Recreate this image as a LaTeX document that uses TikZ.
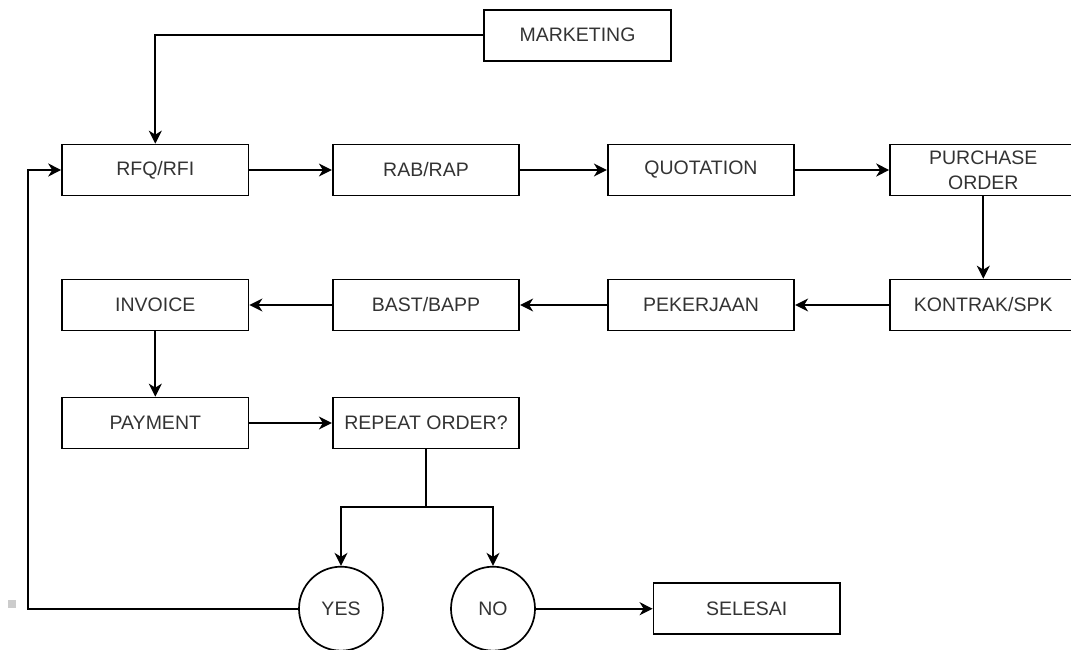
\documentclass[tikz,border=0pt]{standalone}
\usepackage{fontspec}
\setmainfont{Liberation Sans}
\usetikzlibrary{arrows.meta}
\definecolor{txt}{HTML}{333333}
\tikzset{
  box/.style={draw=black, line width=1.7pt, rectangle, minimum width=186.5pt, minimum height=51pt, inner sep=0pt, text=txt, font=\fontsize{19.5}{25}\selectfont, align=center},
  circ/.style={draw=black, line width=1.7pt, circle, minimum size=84pt, inner sep=0pt, text=txt, font=\fontsize{19.5}{25}\selectfont},
  conn/.style={line width=1.7pt, -{Stealth[length=13pt, width=13pt, inset=4pt]}},
  plain/.style={line width=1.7pt}
}
\begin{document}
\begin{tikzpicture}[x=1pt, y=-1pt]
\useasboundingbox (0,0) rectangle (1071,650);
\node[box] (mkt)  at (577.5,35.2) {MARKETING};
\node[box] (rfq)  at (155.3,170) {RFQ/RFI};
\node[box] (rab)  at (426,170) {RAB/RAP};
\node[box] (quo)  at (701,170) {QUOTATION};
\node[box] (po)   at (983.3,170) {PURCHASE\\ORDER};
\node[box] (kon)  at (983.3,305) {KONTRAK/SPK};
\node[box] (pek)  at (701,305) {PEKERJAAN};
\node[box] (bast) at (426,305) {BAST/BAPP};
\node[box] (inv)  at (155.3,305) {INVOICE};
\node[box] (pay)  at (155.3,423) {PAYMENT};
\node[box] (rep)  at (426,423) {REPEAT ORDER?};
\node[circ] (yes) at (341,608.7) {YES};
\node[circ] (no)  at (493,608.7) {NO};
\node[box] (sel)  at (746.7,608.7) {SELESAI};
\coordinate (sp) at (426,507);
\coordinate (lp) at (28.3,608.7);
\fill[black!20] (7.5,599.5) rectangle (15.5,607.5);
\draw[conn] (mkt.west) -| (rfq.north);
\draw[conn] (rfq.east) -- (rab.west);
\draw[conn] (rab.east) -- (quo.west);
\draw[conn] (quo.east) -- (po.west);
\draw[conn] (po.south) -- (kon.north);
\draw[conn] (kon.west) -- (pek.east);
\draw[conn] (pek.west) -- (bast.east);
\draw[conn] (bast.west) -- (inv.east);
\draw[conn] (inv.south) -- (pay.north);
\draw[conn] (pay.east) -- (rep.west);
\draw[plain] (rep.south) -- (sp);
\draw[conn] (sp) -| (yes.north);
\draw[conn] (sp) -| (no.north);
\draw[conn] (no.east) -- (sel.west);
\draw[conn] (yes.west) -- (lp) |- (rfq.west);
\end{tikzpicture}
\end{document}
